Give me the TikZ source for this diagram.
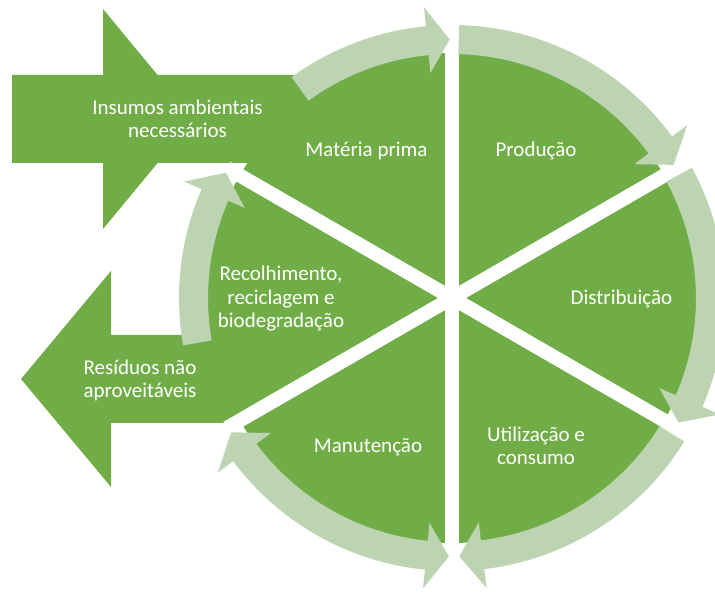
\documentclass[tikz,border=0pt]{standalone}
\usepackage{fontspec}
\setmainfont{Carlito}
\definecolor{leaf}{RGB}{112,173,71}
\definecolor{paleleaf}{RGB}{188,212,177}
% curved band around the ring: tail angle, head-back angle, tip angle
\newcommand\ringarrow[3]{%
  \fill[paleleaf] (#1:273) arc[start angle=#1, end angle=#2, radius=273]
    -- (#2:292) -- (#3:258.5) -- (#2:226) -- (#2:244)
    arc[start angle=#2, end angle=#1, radius=244] -- cycle;}
\begin{document}
\begin{tikzpicture}[x=1pt,y=1pt,
  lbl/.style={text=white, font=\fontsize{21}{23.5}\selectfont, align=center,
              anchor=base, inner sep=0pt},
  gap/.style={draw=white, line width=14pt}]
\useasboundingbox (0,0) rectangle (715,592);
\coordinate (C) at (452,294);

% pie and the two side arrows
\fill[leaf] (C) circle[radius=245];
\fill[leaf] (12,517) -- (103,517) -- (103,583) -- (157.6,517) -- (330,517)
  -- (330,429) -- (157.6,429) -- (103,363) -- (103,429) -- (12,429) -- cycle;
\fill[leaf] (330,257) -- (111,257) -- (111,321) -- (21,213) -- (111,105)
  -- (111,169) -- (330,169) -- cycle;

\begin{scope}[shift={(C)}]
  % white gaps between the six segments
  \draw[gap] (90:252) -- (-90:252);
  \draw[gap] (30:252) -- (210:260);
  \draw[gap] (150:260) -- (-30:252);
  % cycle arrows
  \ringarrow{126}{95.5}{90.5}
  \ringarrow{88.5}{36.3}{31}
  \ringarrow{28.5}{-23.5}{-28.8}
  \ringarrow{-31.7}{-83.2}{-88.4}
  \ringarrow{190}{156.5}{151}
  \fill[paleleaf] (-90.7:258.5) -- (-95.7:292) -- (-95.7:273)
    arc[start angle=-95.7, end angle=-143.3, radius=273]
    -- (-143.3:292) -- (-148.7:258.5) -- (-143.3:226) -- (-143.3:244)
    arc[start angle=-143.3, end angle=-95.7, radius=244] -- (-95.7:226) -- cycle;
\end{scope}

% labels (base anchor sits on the last line)
\node[lbl] (ins) at (177.5,454) {Insumos ambientais\\necessários};
\node[lbl] (mat) at (366.5,435) {Matéria prima};
\node[lbl] (pro) at (536,435) {Produção};
\node[lbl] (dis) at (621.5,287) {Distribuição};
\node[lbl] (uti) at (536,127) {Utilização e\\consumo};
\node[lbl] (man) at (368,139) {Manutenção};
\node[lbl] (rec) at (281,264) {Recolhimento,\\reciclagem e\\biodegradação};
\node[lbl] (res) at (140,194) {Resíduos não\\aproveitáveis};
\end{tikzpicture}
\end{document}
